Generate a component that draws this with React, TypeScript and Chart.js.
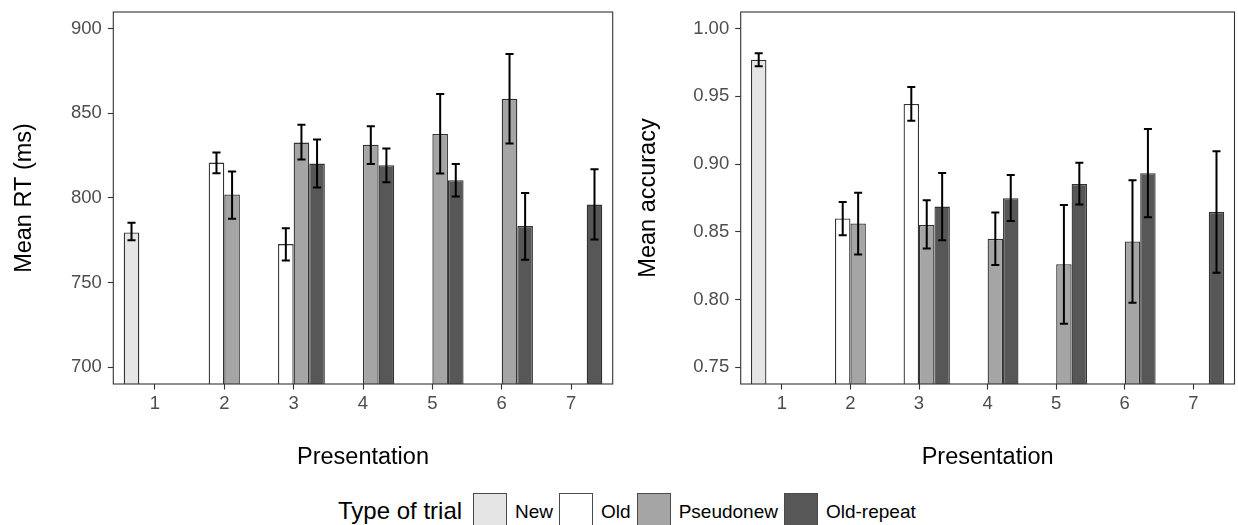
import React, { useEffect, useRef } from 'react';
import { Chart, registerables } from 'chart.js';

Chart.register(...registerables);

const FONT = "'Liberation Sans', Arial, sans-serif";

// ---------- data ----------
const presentations = [1, 2, 3, 4, 5, 6, 7];
const trialTypes = ['New', 'Old', 'Pseudonew', 'Old-repeat'];
const trialColors = ['#E5E5E5', '#FFFFFF', '#A5A5A5', '#575757'];

// Mean RT (ms)
const rtNew = [779.6, null, null, null, null, null, null];
const rtNewLow = [775.0, null, null, null, null, null, null];
const rtNewHigh = [785.3, null, null, null, null, null, null];
const rtOld = [null, 820.8, 772.7, null, null, null, null];
const rtOldLow = [null, 814.5, 763.0, null, null, null, null];
const rtOldHigh = [null, 826.7, 782.1, null, null, null, null];
const rtPseudo = [null, 802.0, 832.6, 831.4, 837.7, 858.5, null];
const rtPseudoLow = [null, 787.6, 822.6, 820.0, 814.3, 832.0, null];
const rtPseudoHigh = [null, 815.5, 843.2, 842.2, 861.3, 884.9, null];
const rtRepeat = [null, null, 820.2, 819.3, 810.4, 783.3, 796.0];
const rtRepeatLow = [null, null, 806.1, 809.2, 800.8, 763.5, 775.4];
const rtRepeatHigh = [null, null, 834.4, 829.1, 820.0, 802.9, 816.9];
const rtTicks = [700, 750, 800, 850, 900];

// Mean accuracy
const accNew = [0.977, null, null, null, null, null, null];
const accNewLow = [0.9722, null, null, null, null, null, null];
const accNewHigh = [0.9818, null, null, null, null, null, null];
const accOld = [null, 0.8598, 0.9443, null, null, null, null];
const accOldLow = [null, 0.8475, 0.932, null, null, null, null];
const accOldHigh = [null, 0.872, 0.9568, null, null, null, null];
const accPseudo = [null, 0.8561, 0.8551, 0.8448, 0.8261, 0.8428, null];
const accPseudoLow = [null, 0.8333, 0.8377, 0.8256, 0.7822, 0.7976, null];
const accPseudoHigh = [null, 0.8789, 0.8733, 0.8642, 0.8698, 0.888, null];
const accRepeat = [null, null, 0.8686, 0.8748, 0.8853, 0.8932, 0.8647];
const accRepeatLow = [null, null, 0.8438, 0.858, 0.8701, 0.8608, 0.8197];
const accRepeatHigh = [null, null, 0.8934, 0.892, 0.901, 0.9258, 0.9094];
const accTicks = [0.75, 0.8, 0.85, 0.9, 0.95, 1.0];

// ---------- plugins ----------
const errorBarPlugin = {
  id: 'errorBars',
  afterDatasetsDraw(chart: any) {
    const ctx = chart.ctx;
    const yScale = chart.scales.y;
    ctx.save();
    ctx.strokeStyle = '#000000';
    ctx.lineWidth = 2;
    chart.data.datasets.forEach((ds: any, di: number) => {
      const meta = chart.getDatasetMeta(di);
      if (!meta.visible) return;
      meta.data.forEach((bar: any, i: number) => {
        if (ds.data[i] == null) return;
        const lo = ds.errLow[i];
        const hi = ds.errHigh[i];
        const x = bar.x;
        const yLo = yScale.getPixelForValue(lo);
        const yHi = yScale.getPixelForValue(hi);
        const half = bar.width * 0.26;
        ctx.beginPath();
        ctx.moveTo(x, yLo);
        ctx.lineTo(x, yHi);
        ctx.moveTo(x - half, yLo);
        ctx.lineTo(x + half, yLo);
        ctx.moveTo(x - half, yHi);
        ctx.lineTo(x + half, yHi);
        ctx.stroke();
      });
    });
    ctx.restore();
  },
};

const borderPlugin = {
  id: 'panelBorder',
  afterDraw(chart: any) {
    const { left, top, right, bottom } = chart.chartArea;
    const ctx = chart.ctx;
    ctx.save();
    ctx.strokeStyle = '#333333';
    ctx.lineWidth = 1.1;
    ctx.strokeRect(left, top, right - left, bottom - top);
    ctx.restore();
  },
};

type PanelProps = {
  width: number;
  height: number;
  yWidth: number;
  padRight: number;
  yMin: number;
  yMax: number;
  yStep: number;
  yTicks: number[];
  decimals: number;
  yTitle: string;
  yTitlePad: number;
  means: (number | null)[][];
  lows: (number | null)[][];
  highs: (number | null)[][];
};

function Panel(p: PanelProps) {
  const ref = useRef<HTMLCanvasElement>(null);
  useEffect(() => {
    if (!ref.current) return;
    const chart = new Chart(ref.current, {
      type: 'bar',
      data: {
        labels: presentations,
        datasets: trialTypes.map((name, k) => ({
          label: name,
          data: p.means[k],
          errLow: p.lows[k],
          errHigh: p.highs[k],
          backgroundColor: trialColors[k],
          borderColor: '#333333',
          borderWidth: 1.3,
          borderSkipped: false,
          categoryPercentage: 0.9,
          barPercentage: 1.0,
        })) as any,
      },
      options: {
        animation: false,
        responsive: false,
        maintainAspectRatio: false,
        layout: { padding: { left: 0, right: p.padRight, top: 12, bottom: 0 } },
        plugins: {
          legend: { display: false },
          tooltip: { enabled: false },
        },
        scales: {
          x: {
            type: 'linear',
            min: 0.4,
            max: 7.6,
            offset: false,
            afterFit: (s: any) => {
              s.height = p.height - 384;
              s.paddingLeft = 0;
              s.paddingRight = 0;
            },
            grid: {
              display: true,
              drawOnChartArea: false,
              drawTicks: true,
              tickLength: 5.5,
              tickColor: '#333333',
              tickWidth: 1.1,
              offset: false,
            },
            border: { display: false },
            ticks: {
              stepSize: 1,
              includeBounds: false,
              autoSkip: false,
              maxRotation: 0,
              padding: 3,
              color: '#4D4D4D',
              font: { family: FONT, size: 18.5 },
              callback: (v: any) => String(v),
            },
            title: {
              display: true,
              text: 'Presentation',
              color: '#000000',
              font: { family: FONT, size: 23.5 },
              padding: { top: 0, bottom: 8 },
            },
          },
          y: {
            type: 'linear',
            min: p.yMin,
            max: p.yMax,
            afterFit: (s: any) => {
              s.width = p.yWidth;
              s.paddingTop = 0;
              s.paddingBottom = 0;
            },
            afterBuildTicks: (s: any) => {
              s.ticks = p.yTicks.map((v) => ({ value: v }));
            },
            grid: {
              display: true,
              drawOnChartArea: false,
              drawTicks: true,
              tickLength: 5.5,
              tickColor: '#333333',
              tickWidth: 1.1,
            },
            border: { display: false },
            ticks: {
              stepSize: p.yStep,
              includeBounds: false,
              autoSkip: false,
              padding: 6,
              color: '#4D4D4D',
              font: { family: FONT, size: 18.5 },
              callback: (v: any) => Number(v).toFixed(p.decimals),
            },
            title: {
              display: true,
              text: p.yTitle,
              color: '#000000',
              font: { family: FONT, size: 23.5 },
              padding: { top: p.yTitlePad, bottom: 0 },
            },
          },
        },
      } as any,
      plugins: [errorBarPlugin, borderPlugin],
    });
    return () => chart.destroy();
  }, []);
  return <canvas ref={ref} width={p.width} height={p.height} style={{ display: 'block', width: p.width, height: p.height }} />;
}

function LegendKey({ color, label }: { color: string; label: string }) {
  return (
    <div style={{ display: 'flex', alignItems: 'center', marginRight: 6 }}>
      <div
        style={{
          width: 32,
          height: 32,
          background: color,
          border: '1.3px solid #4a4a4a',
          marginRight: 8,
        }}
      />
      <span style={{ fontFamily: FONT, fontSize: 19, color: '#000', position: 'relative', top: 2 }}>{label}</span>
    </div>
  );
}

export default function App() {
  return (
    <div
      style={{
        position: 'fixed',
        left: 0,
        top: 0,
        width: 1238,
        height: 525,
        background: '#ffffff',
        overflow: 'hidden',
      }}
    >
      <div style={{ position: 'absolute', left: 0, top: 0 }}>
        <Panel
          width={620}
          height={480}
          yWidth={113.3}
          padRight={7.3}
          yMin={690.1}
          yMax={909.7}
          yStep={50}
          yTicks={rtTicks}
          decimals={0}
          yTitle="Mean RT (ms)"
          yTitlePad={10}
          means={[rtNew, rtOld, rtPseudo, rtRepeat]}
          lows={[rtNewLow, rtOldLow, rtPseudoLow, rtRepeatLow]}
          highs={[rtNewHigh, rtOldHigh, rtPseudoHigh, rtRepeatHigh]}
        />
      </div>
      <div style={{ position: 'absolute', left: 620, top: 0 }}>
        <Panel
          width={618}
          height={480}
          yWidth={120.7}
          padRight={3.5}
          yMin={0.7377}
          yMax={1.0122}
          yStep={0.05}
          yTicks={accTicks}
          decimals={2}
          yTitle="Mean accuracy"
          yTitlePad={14}
          means={[accNew, accOld, accPseudo, accRepeat]}
          lows={[accNewLow, accOldLow, accPseudoLow, accRepeatLow]}
          highs={[accNewHigh, accOldHigh, accPseudoHigh, accRepeatHigh]}
        />
      </div>
      <div
        style={{
          position: 'absolute',
          left: 338,
          top: 493,
          height: 34,
          display: 'flex',
          alignItems: 'center',
        }}
      >
        <span style={{ fontFamily: FONT, fontSize: 24, color: '#000', marginRight: 11, position: 'relative', top: 1 }}>
          Type of trial
        </span>
        {trialTypes.map((t, k) => (
          <LegendKey key={t} color={trialColors[k]} label={t} />
        ))}
      </div>
    </div>
  );
}
